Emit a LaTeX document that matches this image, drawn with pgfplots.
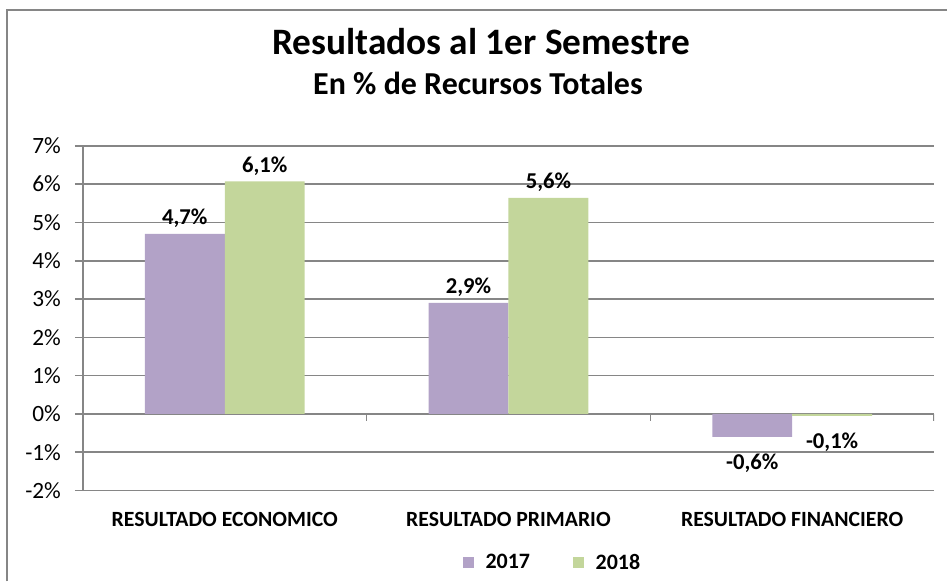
\documentclass[border=0pt]{standalone}
\usepackage{fontspec}
\setmainfont{Carlito}
\usepackage{pgfplots}
\pgfplotsset{compat=1.18}

\definecolor{c2017}{RGB}{178,162,199}
\definecolor{c2018}{RGB}{195,214,155}
\definecolor{gridc}{RGB}{134,134,134}

\begin{document}
\begin{tikzpicture}
	% page frame, 1px = 0.75pt
	\begin{scope}[x=0.75pt,y=-0.75pt]
		\path (0,0) rectangle (948,582);
		\draw[gridc, line width=1.5pt] (7,582) -- (7,10) -- (948,10);
		\node[anchor=base, inner sep=0pt, font=\bfseries\fontsize{28}{28}\selectfont] at (481.5,55) {Resultados al 1er Semestre};
		\node[anchor=base, inner sep=0pt, font=\bfseries\fontsize{24}{24}\selectfont] at (478.5,95) {En \% de Recursos Totales};
	\end{scope}
	\begin{axis}[
			at={(62.25pt,-109.5pt)}, anchor=north west,
			scale only axis,
			width=639pt, height=258.75pt,
			ybar=0pt, bar width=60pt,
			ymin=-2, ymax=7,
			ytick={-2,-1,0,1,2,3,4,5,6,7},
			yticklabel={\pgfmathprintnumber{\tick}\%},
			xmin=-0.5, xmax=2.5,
			xtick={0,1,2},
			xticklabels={RESULTADO ECONOMICO, RESULTADO PRIMARIO, RESULTADO FINANCIERO},
			axis x line*=bottom, axis y line*=left,
			axis line style={gridc, line width=1.2pt, -},
			ymajorgrids,
			grid style={gridc, line width=1.2pt},
			tick align=outside,
			major tick length=6pt,
			ytick style={gridc, line width=1.2pt},
			xtick style={draw=none},
			/pgf/number format/assume math mode=true,
			yticklabel style={font=\fontsize{17.5}{17.5}\selectfont, xshift=-7pt},
			xticklabel style={font=\bfseries\fontsize{16.3}{16.3}\selectfont, anchor=base, yshift=-21pt},
			nodes near coords,
			point meta=explicit symbolic,
			visualization depends on={rawy \as \rawy},
			every node near coord/.append style={font=\bfseries\fontsize{17}{17}\selectfont, text=black,
				/utils/exec={\ifdim\rawy pt<0pt \def\myanch{north}\def\myshift{-9pt}\else\def\myanch{south}\def\myshift{1pt}\fi},
				anchor=\myanch, yshift=\myshift},
			legend image code/.code={\fill[#1] (0pt,-4.125pt) rectangle (8.25pt,4.125pt);},
			legend style={at={(0.552,-0.209)}, anchor=center, draw=none,
				font=\bfseries\fontsize{16.5}{16.5}\selectfont,
				/tikz/every odd column/.append style={column sep=7pt},
				/tikz/every even column/.append style={column sep=30pt}},
			legend columns=2,
		]
		\addplot[fill=c2017, draw=none] coordinates {
				(0,4.7) [4,7\%]
				(1,2.9) [2,9\%]
				(2,-0.6) [-0,6\%]
			};
		\addplot[fill=c2018, draw=none] coordinates {
				(0,6.07) [6,1\%]
				(1,5.64) [5,6\%]
				(2,-0.05) [-0,1\%]
			};
		\draw[gridc, line width=1.2pt] (axis cs:0.5,0) -- ([yshift=-5.25pt]axis cs:0.5,0);
		\draw[gridc, line width=1.2pt] (axis cs:1.5,0) -- ([yshift=-5.25pt]axis cs:1.5,0);
		\draw[gridc, line width=1.2pt] (axis cs:2.5,0) -- ([yshift=-5.25pt]axis cs:2.5,0);
		\legend{2017,2018}
	\end{axis}
\end{tikzpicture}
\end{document}
